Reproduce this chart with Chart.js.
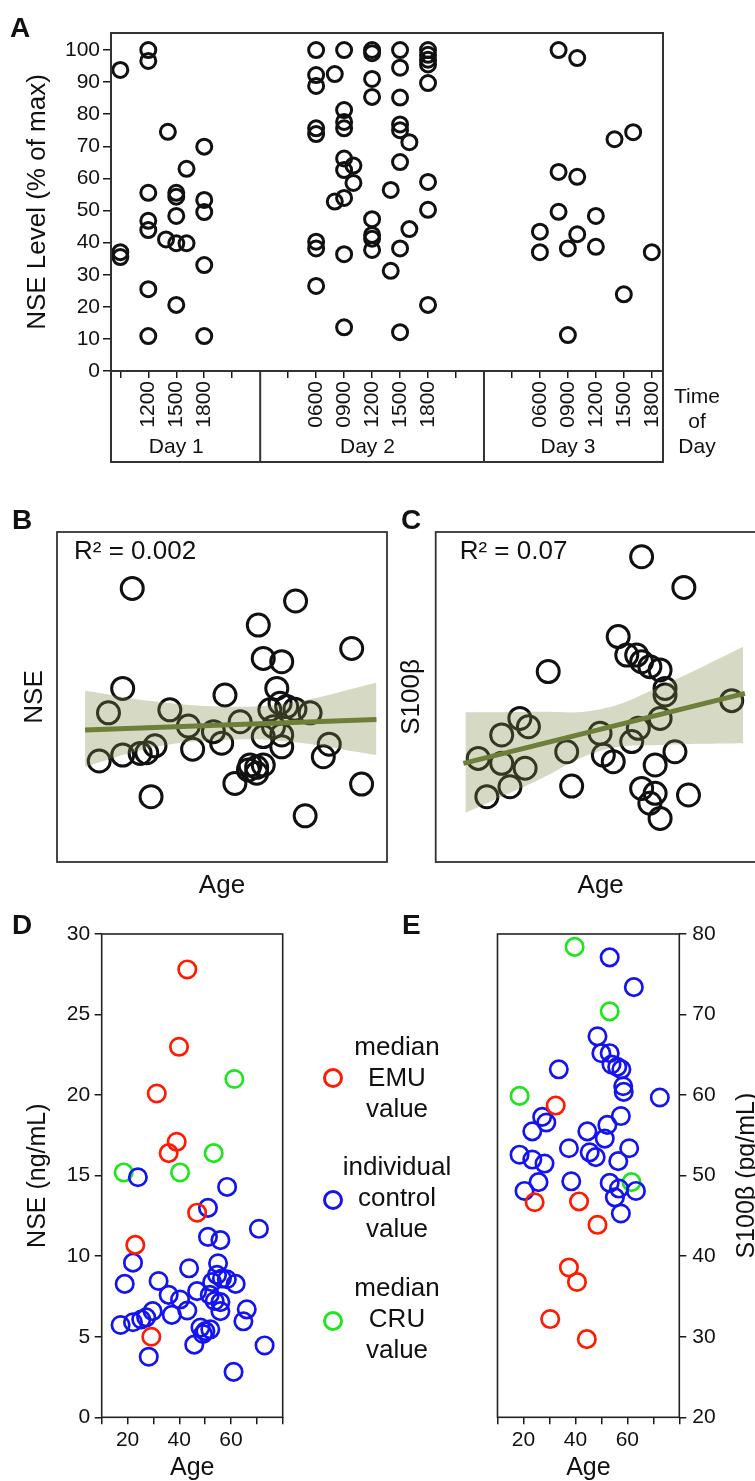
<!DOCTYPE html>
<html>
<head>
<meta charset="utf-8">
<script src="https://cdn.jsdelivr.net/npm/chart.js@4.4.1/dist/chart.umd.min.js"></script>
<style>
  html, body { margin: 0; padding: 0; background: #fff; }
  body { width: 755px; height: 1481px; overflow: hidden; position: relative; font-family: 'Liberation Sans', Arial, sans-serif; color: #111; }
  canvas { position: absolute; }
  .tag { position: absolute; font-weight: bold; font-size: 28px; line-height: 1; }
  .dot { position: absolute; width: 20px; height: 20px; border: 3px solid; border-radius: 50%; box-sizing: border-box; }
  .legtxt { position: absolute; width: 150px; font-size: 26px; line-height: 31px; text-align: center; }
</style>
</head>
<body>
<canvas id="cA" width="755" height="470" style="left:0px;top:0px"></canvas>
<canvas id="cB" width="420" height="430" style="left:0px;top:480px"></canvas>
<canvas id="cC" width="420" height="430" style="left:390px;top:480px"></canvas>
<canvas id="cD" width="300" height="590" style="left:0px;top:910px"></canvas>
<canvas id="cE" width="330" height="590" style="left:450px;top:910px"></canvas>

<div class="tag" style="left:10px;top:14px">A</div>
<div class="tag" style="left:12px;top:506px">B</div>
<div class="tag" style="left:401px;top:506px">C</div>
<div class="tag" style="left:12px;top:911px">D</div>
<div class="tag" style="left:402px;top:911px">E</div>

<div class="dot" style="left:323px;top:1068px;border-color:#ff1a00"></div>
<div class="legtxt" style="left:322px;top:1031px">median<br>EMU<br>value</div>
<div class="dot" style="left:323px;top:1190px;border-color:#1414f0"></div>
<div class="legtxt" style="left:322px;top:1151px">individual<br>control<br>value</div>
<div class="dot" style="left:323px;top:1311px;border-color:#1ee61e"></div>
<div class="legtxt" style="left:322px;top:1272px">median<br>CRU<br>value</div>

<script>
// ---- panel A: NSE level by time of day (hours counted from Day 1 00:00)
const sampleHour = [
  9, 9, 9, 12, 12, 12, 12, 12, 12, 12, 14.1, 13.9, 15, 15, 15, 15, 15, 16.1, 16.1, 18, 18, 18, 18, 18,
  30, 30, 30, 30, 30, 30, 30, 30, 32, 32, 33, 33, 33, 33, 33, 33, 33, 33, 33, 34, 34,
  36, 36, 36, 36, 36, 36, 36, 36, 38, 38, 39, 39, 39, 39, 39, 39, 39, 39, 40, 40,
  42, 42, 42, 42, 42, 42, 42, 42,
  56, 58, 62, 64, 56, 58, 56, 60, 54, 58, 54, 57, 60, 66, 63, 57
];
const nseLevel = [
  93.8, 37, 35.5, 100, 96.6, 55.5, 46.8, 43.9, 25.5, 10.9, 74.5, 41, 55.5, 54.3, 48.3, 39.8, 20.6, 63, 39.8, 69.9, 53.3, 49.5, 33, 10.9,
  100, 92.2, 88.8, 75.6, 73.8, 40.3, 38.2, 26.5, 92.5, 52.8, 100, 81.3, 77.6, 75.6, 66.2, 62.6, 53.9, 36.4, 13.6, 64, 58.6,
  100, 99, 91, 85.4, 47.3, 42.4, 41.2, 37.7, 56.4, 31.2, 100, 94.5, 85.2, 76.8, 75, 65.1, 38.2, 12.1, 71.3, 44.2,
  100, 98.5, 97, 95.5, 89.7, 58.9, 50.2, 20.6,
  100, 97.5, 72.2, 74.4, 62, 60.5, 49.6, 48.3, 43.4, 42.6, 37, 38.2, 38.7, 37, 23.9, 11.2
];
const tickHours = [9, 12, 15, 18, 21, 27, 30, 33, 36, 39, 42, 45, 51, 54, 57, 60, 63, 66];
const labeledHours = [12, 15, 18, 30, 33, 36, 39, 42, 54, 57, 60, 63, 66];
const dayBounds = [24, 48];
const dayNames = ['Day 1', 'Day 2', 'Day 3'];
const dayLabelHours = [15, 35.5, 57];
const nseTicks = [0, 10, 20, 30, 40, 50, 60, 70, 80, 90, 100];

// ---- panel B: NSE vs age (no scale shown)
const ageB = [22.8, 72.3, 61.0, 89.3, 62.5, 68.1, 19.9, 50.9, 66.6, 15.6, 34.2, 55.5, 39.8, 64.5, 67.6, 69.6, 72.1, 76.7, 47.4, 49.9, 62.5,
  68.1, 65.6, 68.1, 82.5, 80.7, 12.8, 19.9, 25.2, 27.2, 29.7, 41.1, 58.5, 60.5, 62.5, 58.0, 53.9, 92.3, 28.5, 75.2, 60.5];
const nseB = [82.9, 79.1, 71.8, 64.7, 61.7, 60.7, 52.6, 50.6, 52.6, 45.2, 46.1, 42.5, 41.2, 46.1, 48.1, 47.1, 46.3, 45.2, 39.5, 36, 38,
  38.5, 41, 34.9, 35.7, 31.9, 30.6, 32.4, 32.9, 33.1, 35.2, 34.2, 29.4, 28.7, 29.4, 27.9, 23.8, 23.6, 19.8, 14, 26.9];
const fitXB = [8.5, 96.8];
const fitYB = [40.0, 43.2];
const bandXB = [8.5, 30, 50, 70, 96.8];
const bandHiB = [51.9, 48.6, 47.1, 48.1, 54.3];
const bandLoB = [28.9, 34.9, 37.0, 36.5, 32.4];

// ---- panel C: S100b vs age (no scale shown)
const ageC = [62.4, 75.2, 55.3, 57.9, 60.9, 62.4, 64.9, 68, 34.1, 69.5, 69.5, 89.7, 25.5, 28.1, 68, 20, 49.8, 61.4, 59.4, 12.9, 20, 27.1,
  39.7, 50.8, 53.8, 66.5, 72.5, 22.5, 15.5, 41.2, 62.4, 66.5, 64.9, 68, 76.6];
const s100C = [92.5, 83.2, 68.3, 62.7, 62.7, 60.7, 59.2, 58.2, 57.7, 52.6, 50.6, 48.9, 43.5, 41, 43.5, 38.5, 39, 40.5, 36.5, 31.4, 29.9,
  28.4, 33.4, 32.4, 30.4, 29.4, 33.4, 22.8, 19.8, 23, 22.3, 20.8, 17.8, 13.2, 20.3];
const fitXC = [8.4, 93.7];
const fitYC = [29.9, 51.1];
const bandXC = [9, 30, 50, 70, 93.2];
const bandHiC = [45.4, 45.5, 46.3, 54.1, 65.2];
const bandLoC = [14.9, 24.3, 33.7, 35.5, 36.0];

// ---- panel D: NSE (ng/mL) vs age
const emuAgeD = [43.1, 39.9, 31.3, 39, 35.9, 46.9, 23, 29.2];
const emuNseD = [27.8, 23.0, 20.1, 17.1, 16.4, 12.7, 10.7, 5.0];
const cruAgeD = [61.3, 53.3, 18.5, 40.3];
const cruNseD = [21.0, 16.4, 15.2, 15.2];
const ctrlAgeD = [24, 58.5, 51.1, 70.8, 51.1, 55.9, 22.1, 43.8, 55, 18.9, 32, 54.6, 52.7, 56.5, 58.4, 61.8, 35.9, 46.9, 40.3, 51.8,
  53.7, 55.9, 37.1, 43.1, 55.9, 66.1, 64.8, 29.7, 27.2, 22.1, 25.3, 17.3, 48.2, 50.1, 52, 49.2, 45.8, 73, 28.2, 61];
const ctrlNseD = [14.9, 14.3, 13.0, 11.7, 11.2, 11.0, 9.6, 9.25, 9.56, 8.28, 8.46, 8.84, 8.39, 8.62, 8.57, 8.28, 7.6, 7.83, 7.31, 7.6,
  7.22, 7.15, 6.36, 6.63, 6.59, 6.7, 5.96, 6.59, 6.2, 5.9, 6.07, 5.73, 5.57, 5.35, 5.46, 5.17, 4.51, 4.46, 3.76, 2.82];
const nseTicksD = [0, 5, 10, 15, 20, 25, 30];

// ---- panel E: S100b (pg/mL) vs age
const emuAgeE = [32.4, 24.3, 41.4, 48.5, 37.5, 40.6, 30.3, 44.4];
const emuS100E = [58.7, 46.7, 46.8, 43.9, 38.6, 36.8, 32.2, 29.7];
const cruAgeE = [39.7, 53.2, 18.5, 61.6];
const cruS100E = [78.4, 70.4, 59.9, 49.2];
const ctrlAgeE = [53.2, 62.5, 48.5, 50, 53.2, 53.9, 56.1, 57.7, 33.6, 58.4, 58.6, 72.5, 57.5, 27.2, 28.8, 52.3, 23.4, 44.6, 51.3,
  18.5, 23.4, 28.1, 37.5, 45.5, 47.8, 60.7, 56.5, 20.4, 25.8, 38.4, 53.2, 56.8, 63.3, 55.2, 57.5];
const ctrlS100E = [77.1, 73.4, 67.3, 65.2, 65.2, 63.8, 63.5, 63.2, 63.2, 61.1, 60.4, 59.7, 57.4, 57.3, 56.6, 56.3, 55.5, 55.5, 54.6,
  52.6, 52, 51.5, 53.4, 52.9, 52.3, 53.4, 51.8, 48.1, 49.2, 49.3, 49.1, 48.4, 48.1, 47.3, 45.3];
const s100TicksE = [20, 30, 40, 50, 60, 70, 80];

const ageTicks = [10, 20, 30, 40, 50, 60, 70, 80];
const ageLabels = [20, 40, 60];

// ---------------------------------------------------------------
const FONT = "'Liberation Sans', Arial, Helvetica, sans-serif";
const INK = '#1a1a1a';
const RED = '#ff1a00', BLUE = '#1414f0', GREEN = '#1ee61e';
const OLIVE = '#6e7f3a', BAND = 'rgba(126,138,69,0.32)';

Chart.defaults.font.family = FONT;
Chart.defaults.color = '#111';
Chart.defaults.animation = false;
Chart.defaults.plugins.legend.display = false;
Chart.defaults.plugins.tooltip.enabled = false;

const pts = (xs, ys) => xs.map((x, i) => ({ x, y: ys[i] }));
const fixW = w => s => { s.width = w; };
const fixH = h => s => { s.height = h; };
const useTicks = list => s => { s.ticks = list.map(v => ({ value: v })); };
const hh = h => String(h % 24).padStart(2, '0') + '00';

function rings(xs, ys, color, r, bw, order) {
  return { data: pts(xs, ys), borderColor: color, backgroundColor: 'rgba(0,0,0,0)', pointRadius: r, borderWidth: bw, order };
}

function frame(chart, lw, color) {
  const { ctx, chartArea: ca } = chart;
  ctx.save();
  ctx.strokeStyle = color || '#222';
  ctx.lineWidth = lw || 1.6;
  ctx.strokeRect(ca.left, ca.top, ca.right - ca.left, ca.bottom - ca.top);
  ctx.restore();
}

const tickGrid = len => ({ drawOnChartArea: false, tickLength: len, color: INK, lineWidth: 1.5 });
const noAxis = { grid: { display: false }, ticks: { display: false }, border: { display: false } };

// ---- A
new Chart(document.getElementById('cA'), {
  type: 'scatter',
  data: { datasets: [rings(sampleHour, nseLevel, '#111', 7.5, 3, 1)] },
  options: {
    responsive: false,
    layout: { padding: { top: 33, right: 92, left: 0, bottom: 0 } },
    scales: {
      x: {
        type: 'linear', min: 8, max: 67.2,
        afterBuildTicks: useTicks(tickHours), afterFit: fixH(99),
        grid: tickGrid(7), border: { display: false },
        ticks: { autoSkip: false, minRotation: 90, maxRotation: 90, padding: 3, font: { size: 21 }, color: '#111',
          callback: v => labeledHours.includes(v) ? hh(v) : '' }
      },
      y: {
        min: 0, max: 105.3,
        afterBuildTicks: useTicks(nseTicks), afterFit: fixW(111),
        grid: tickGrid(8), border: { display: false },
        ticks: { font: { size: 21 }, padding: 3, color: '#111' },
        title: { display: true, text: 'NSE Level (% of max)', font: { size: 26 }, color: '#111', padding: { top: 22 } }
      }
    }
  },
  plugins: [{
    id: 'boxA',
    afterDraw(chart) {
      frame(chart, 2, '#333');
      const { ctx, chartArea: ca } = chart;
      const xs = chart.scales.x;
      const yb = 462;
      ctx.save();
      ctx.strokeStyle = '#333';
      ctx.lineWidth = 2;
      ctx.beginPath();
      ctx.moveTo(ca.left, ca.bottom); ctx.lineTo(ca.left, yb); ctx.lineTo(ca.right, yb); ctx.lineTo(ca.right, ca.bottom);
      dayBounds.forEach(h => { const x = xs.getPixelForValue(h); ctx.moveTo(x, ca.bottom); ctx.lineTo(x, yb); });
      ctx.stroke();
      ctx.fillStyle = '#111';
      ctx.font = '21px ' + FONT;
      ctx.textAlign = 'center';
      ctx.textBaseline = 'middle';
      dayNames.forEach((d, i) => ctx.fillText(d, xs.getPixelForValue(dayLabelHours[i]), 447));
      ['Time', 'of', 'Day'].forEach((t, i) => ctx.fillText(t, 697, 397 + i * 25));
      ctx.restore();
    }
  }]
});

// ---- B and C
function fitPanel(id, opts) {
  return new Chart(document.getElementById(id), {
    type: 'scatter',
    data: {
      datasets: [
        rings(opts.xs, opts.ys, '#111', 11, 3, 3),
        { type: 'line', data: pts(opts.bandX, opts.bandHi), fill: '+1', backgroundColor: BAND, borderWidth: 0, pointRadius: 0, tension: 0.4, order: 2 },
        { type: 'line', data: pts(opts.bandX, opts.bandLo), fill: false, borderWidth: 0, pointRadius: 0, tension: 0.4, order: 2 },
        { type: 'line', data: pts(opts.fitX, opts.fitY), borderColor: OLIVE, borderWidth: 5, pointRadius: 0, fill: false, order: 1 }
      ]
    },
    options: {
      responsive: false,
      layout: { padding: { top: 52, right: opts.padRight, left: 0, bottom: 0 } },
      scales: {
        x: Object.assign({ type: 'linear', min: 0, max: 100, afterFit: fixH(48),
          title: { display: true, text: 'Age', font: { size: 26 }, color: '#111', padding: { bottom: 9 } } }, noAxis),
        y: Object.assign({ min: 0, max: 100, afterFit: fixW(opts.axisW),
          title: { display: true, text: opts.yTitle, font: { size: 26 }, color: '#111', padding: { top: opts.titlePad } } }, noAxis)
      }
    },
    plugins: [{
      id: 'boxFit',
      afterDraw(chart) {
        frame(chart, 1.8, '#333');
        const { ctx, chartArea: ca } = chart;
        ctx.save();
        ctx.fillStyle = '#111';
        ctx.font = '26px ' + FONT;
        ctx.textBaseline = 'alphabetic';
        ctx.fillText(opts.r2, ca.left + opts.r2dx, ca.top + 27);
        ctx.restore();
      }
    }]
  });
}

fitPanel('cB', { xs: ageB, ys: nseB, fitX: fitXB, fitY: fitYB, bandX: bandXB, bandHi: bandHiB, bandLo: bandLoB,
  padRight: 33, axisW: 57, yTitle: 'NSE', titlePad: 19, r2: 'R\u00B2 = 0.002', r2dx: 17 });
fitPanel('cC', { xs: ageC, ys: s100C, fitX: fitXC, fitY: fitYC, bandX: bandXC, bandHi: bandHiC, bandLo: bandLoC,
  padRight: 44.3, axisW: 45.7, yTitle: 'S100\u03B2', titlePad: 6, r2: 'R\u00B2 = 0.07', r2dx: 24 });

// ---- D and E
function ageAxis() {
  return {
    type: 'linear', min: 10, max: 80,
    afterBuildTicks: useTicks(ageTicks), afterFit: fixH(82.7),
    grid: tickGrid(7), border: { display: false },
    ticks: { autoSkip: false, maxRotation: 0, padding: 3, font: { size: 21 }, color: '#111',
      callback: v => ageLabels.includes(v) ? String(v) : '' },
    title: { display: true, text: 'Age', font: { size: 25 }, color: '#111', padding: { bottom: 17 } }
  };
}

new Chart(document.getElementById('cD'), {
  type: 'scatter',
  data: {
    datasets: [
      rings(cruAgeD, cruNseD, GREEN, 8.7, 2.7, 3),
      rings(ctrlAgeD, ctrlNseD, BLUE, 8.7, 2.7, 2),
      rings(emuAgeD, emuNseD, RED, 8.7, 2.7, 1)
    ]
  },
  options: {
    responsive: false,
    layout: { padding: { top: 24, right: 17.3, left: 0, bottom: 0 } },
    scales: {
      x: ageAxis(),
      y: {
        min: 0, max: 30,
        afterBuildTicks: useTicks(nseTicksD), afterFit: fixW(101.7),
        grid: tickGrid(7), border: { display: false },
        ticks: { font: { size: 21 }, padding: 4.5, color: '#111' },
        title: { display: true, text: 'NSE (ng/mL)', font: { size: 25 }, color: '#111', padding: { top: 23 } }
      }
    }
  },
  plugins: [{ id: 'boxD', afterDraw(chart) { frame(chart, 1.6, '#222'); } }]
});

new Chart(document.getElementById('cE'), {
  type: 'scatter',
  data: {
    datasets: [
      rings(cruAgeE, cruS100E, GREEN, 8.7, 2.7, 3),
      rings(ctrlAgeE, ctrlS100E, BLUE, 8.7, 2.7, 2),
      rings(emuAgeE, emuS100E, RED, 8.7, 2.7, 1)
    ]
  },
  options: {
    responsive: false,
    layout: { padding: { top: 24, right: 0, left: 47.5, bottom: 0 } },
    scales: {
      x: ageAxis(),
      y: {
        position: 'right', min: 20, max: 80,
        afterBuildTicks: useTicks(s100TicksE), afterFit: fixW(100.7),
        grid: tickGrid(7), border: { display: false },
        ticks: { font: { size: 21 }, padding: 6, color: '#111' }
      }
    }
  },
  plugins: [{
    id: 'boxE',
    afterDraw(chart) {
      frame(chart, 1.6, '#222');
      const { ctx, chartArea: ca } = chart;
      ctx.save();
      ctx.translate(297, (ca.top + ca.bottom) / 2);
      ctx.rotate(-Math.PI / 2);
      ctx.fillStyle = '#111';
      ctx.font = '25px ' + FONT;
      ctx.textAlign = 'center';
      ctx.textBaseline = 'middle';
      ctx.fillText('S100\u03B2 (pg/mL)', 0, 0);
      ctx.restore();
    }
  }]
});
</script>
</body>
</html>
